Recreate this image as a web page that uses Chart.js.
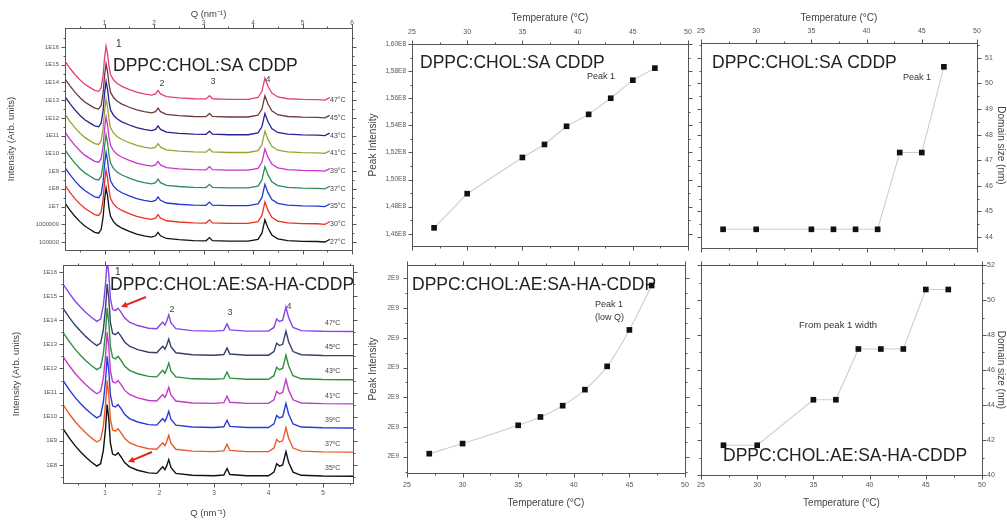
<!DOCTYPE html>
<html><head><meta charset="utf-8">
<script src="https://cdn.jsdelivr.net/npm/chart.js@4.4.1/dist/chart.umd.min.js"></script>
<style>
html,body{margin:0;padding:0;background:#fff;}
#wrap{position:relative;width:1007px;height:520px;overflow:hidden;background:#fff;}
canvas{position:absolute;}
</style></head><body>
<div id="wrap">
<canvas id="c1" width="360" height="255" style="left:0;top:0"></canvas>
<canvas id="c2" width="360" height="265" style="left:0;top:255px"></canvas>
<canvas id="c3" width="337" height="255" style="left:360px;top:0"></canvas>
<canvas id="c4" width="317" height="255" style="left:690px;top:0"></canvas>
<canvas id="c5" width="337" height="265" style="left:360px;top:255px"></canvas>
<canvas id="c6" width="317" height="265" style="left:690px;top:255px"></canvas>
</div>
<script>
// ---------- DATA ----------
// SAXS profile, DPPC:CHOL:SA CDDP (Q in nm^-1, height above curve baseline in decades)
const Q_SA = [0.20,0.30,0.40,0.50,0.60,0.70,0.80,0.88,0.93,0.97,1.00,1.03,1.06,1.09,1.12,1.18,1.25,1.35,1.50,1.65,1.80,1.95,2.03,2.08,2.13,2.25,2.50,2.80,3.05,3.12,3.18,3.50,3.90,4.10,4.18,4.24,4.30,4.38,4.50,4.70,5.00,5.30,5.45,5.52,5.55];
const H_SA = [2.2,1.8,1.45,1.15,0.9,0.72,0.55,0.5,0.7,1.4,2.4,3.05,2.6,1.9,1.45,1.15,0.95,0.78,0.6,0.45,0.35,0.28,0.35,0.55,0.35,0.2,0.13,0.08,0.07,0.25,0.08,0.05,0.05,0.15,0.5,1.25,0.8,0.4,0.18,0.08,0.04,0.03,0.0,0.1,0.15];
const TEMPS_SA = ['27°C','30°C','35°C','37°C','39°C','41°C','43°C','45°C','47°C'];
const BASE_SA = [5,6,7,8,9,10,11,12,13];           // log10 offsets of stacked curves
const COLORS_SA = ['#111111','#e8321e','#2336d8','#2e8b57','#cc33cc','#a0a030','#24248f','#6e3b3b','#e2407e'];
const LOGTICKS_SA = [5,6,7,8,9,10,11,12,13,14,15,16];
const QTICKS_SA = [1,2,3,4,5,6];

// SAXS profile, DPPC:CHOL:AE:SA-HA-CDDP
const Q_AE = [0.23,0.35,0.45,0.55,0.65,0.75,0.85,0.92,0.97,1.01,1.04,1.07,1.10,1.14,1.19,1.24,1.29,1.36,1.45,1.60,1.80,1.95,2.03,2.06,2.10,2.13,2.17,2.21,2.30,2.60,3.00,3.18,3.24,3.29,3.60,4.00,4.10,4.15,4.20,4.26,4.32,4.37,4.45,4.60,5.00,5.55];
const H_AE = [2.0,1.6,1.3,1.05,0.82,0.62,0.45,0.55,1.1,2.0,3.0,2.4,1.4,0.95,0.9,1.0,0.85,0.6,0.42,0.28,0.17,0.15,0.35,0.42,0.3,0.45,0.72,0.4,0.15,0.07,0.05,0.08,0.35,0.1,0.05,0.05,0.2,0.55,0.45,0.5,1.05,0.6,0.2,0.07,0.04,0.03];
const TEMPS_AE = ['35ºC','37ºC','39ºC','41ºC','43ºC','45ºC','47ºC'];
const BASE_AE = [7.5,8.5,9.5,10.5,11.5,12.5,13.5];
const COLORS_AE = ['#111111','#e85a2a','#2a3ad6','#c23ac8','#2f8f3f','#36406e','#8a44e6'];
const LOGTICKS_AE = [8,9,10,11,12,13,14,15,16];
const QTICKS_AE = [1,2,3,4,5];

// Temperature series
const T_POINTS = [27,30,35,37,39,41,43,45,47];
const PEAK1_SA = [1.4644e8,1.4896e8,1.5163e8,1.5259e8,1.5393e8,1.5481e8,1.5600e8,1.5733e8,1.5822e8];
const DOMAIN_SA = [44.3,44.3,44.3,44.3,44.3,44.3,47.3,47.3,50.65];
const PEAK1_AE = [2.0020e9,2.0088e9,2.0211e9,2.0267e9,2.0343e9,2.0451e9,2.0608e9,2.0853e9,2.1152e9];
const DOMAIN_AE = [41.7,41.7,44.3,44.3,47.2,47.2,47.2,50.6,50.6];
const T_TICKS = [25,30,35,40,45,50];
const PEAK_SA_TICKS = [1.46e8,1.48e8,1.50e8,1.52e8,1.54e8,1.56e8,1.58e8,1.60e8];
const PEAK_AE_TICKS = [2.00e9,2.02e9,2.04e9,2.06e9,2.08e9,2.10e9,2.12e9];
const DOMAIN_SA_TICKS = [44,45,46,47,48,49,50,51];
const DOMAIN_AE_TICKS = [40,42,44,46,48,50,52];

// ---------- HELPERS ----------
const F = "'Liberation Sans', Arial, Helvetica, sans-serif";
const TICKC = '#555', TITLEC = '#444';
const fixX = h => s => { s.height = h; s.paddingLeft = 0; s.paddingRight = 0; };
const fixY = w => s => { s.width = w; s.paddingTop = 0; s.paddingBottom = 0; };
const setTicks = arr => s => { s.ticks = arr.map(v => ({value: v})); };

function axis(o) {
  return Object.assign({
    type: 'linear',
    grid: {display: false, drawTicks: false},
    border: {display: false}
  }, o);
}
function ticks(size, pad, cb) {
  return {font: {size: size, family: F}, color: TICKC, padding: pad, autoSkip: false, maxRotation: 0, callback: cb};
}
function title(text, size, pad) {
  return {display: true, text: text, font: {size: size, family: F}, color: TITLEC, padding: pad};
}

const framePlugin = {
  id: 'frame',
  afterDatasetsDraw(chart) {
    const {ctx, chartArea: a} = chart;
    const xs = chart.scales.x, ys = chart.scales.y;
    ctx.save();
    ctx.strokeStyle = '#555';
    ctx.lineWidth = 1;
    const L = Math.round(a.left) + 0.5, R = Math.round(a.right) + 0.5, T = Math.round(a.top) + 0.5, B = Math.round(a.bottom) + 0.5;
    ctx.strokeRect(L, T, R - L, B - T);
    ctx.beginPath();
    const doX = (v, len) => {
      if (v < xs.min - 1e-9 || v > xs.max + 1e-9) return;
      const p = Math.round(xs.getPixelForValue(v)) + 0.5;
      ctx.moveTo(p, T); ctx.lineTo(p, T - len);
      ctx.moveTo(p, B); ctx.lineTo(p, B + len);
    };
    const doY = (v, len) => {
      if (v < ys.min - 1e-9 || v > ys.max + 1e-9) return;
      const p = Math.round(ys.getPixelForValue(v)) + 0.5;
      ctx.moveTo(L, p); ctx.lineTo(L - len, p);
      ctx.moveTo(R, p); ctx.lineTo(R + len, p);
    };
    const xt = xs.ticks.map(t => t.value), yt = ys.ticks.map(t => t.value);
    xt.forEach(v => doX(v, 4));
    yt.forEach(v => doY(v, 4));
    const sx = xt[1] - xt[0], sy = yt[1] - yt[0];
    for (let k = -30; k < 60; k++) { doX(xt[0] + (k + 0.5) * sx, 2); doY(yt[0] + (k + 0.5) * sy, 2); }
    ctx.stroke();
    ctx.restore();
  }
};
function notes(before, after) {
  return {
    id: 'notes',
    beforeDatasetsDraw(chart) { if (before) { const c = chart.ctx; c.save(); before(chart, c); c.restore(); } },
    afterDraw(chart) { if (after) { const c = chart.ctx; c.save(); after(chart, c); c.restore(); } }
  };
}
function txt(c, s, x, y, size, color, align) {
  c.font = size + 'px ' + F;
  c.fillStyle = color || '#222';
  c.textAlign = align || 'left';
  c.textBaseline = 'middle';
  c.fillText(s, x, y);
}
function arrow(c, x1, y1, x2, y2, color) {
  c.strokeStyle = color; c.fillStyle = color; c.lineWidth = 2;
  const ang = Math.atan2(y2 - y1, x2 - x1), hl = 7;
  const bx = x2 - Math.cos(ang) * hl * 0.8, by = y2 - Math.sin(ang) * hl * 0.8;
  c.beginPath(); c.moveTo(x1, y1); c.lineTo(bx, by); c.stroke();
  c.beginPath();
  c.moveTo(x2, y2);
  c.lineTo(x2 - hl * Math.cos(ang - 0.45), y2 - hl * Math.sin(ang - 0.45));
  c.lineTo(x2 - hl * Math.cos(ang + 0.45), y2 - hl * Math.sin(ang + 0.45));
  c.closePath(); c.fill();
}
const logLabel = v => v >= 7 ? '1E' + v : String(Math.pow(10, v));
const baseOpts = (padding) => ({
  responsive: false, animation: false, devicePixelRatio: 1,
  layout: {padding: padding},
  plugins: {legend: {display: false}, tooltip: {enabled: false}}
});
const BIG = 17.5;

// ---------- PANEL 1: SAXS DPPC:CHOL:SA ----------
new Chart(document.getElementById('c1'), {
  type: 'line',
  data: {datasets: BASE_SA.map((b, i) => ({
    data: Q_SA.map((q, j) => ({x: q, y: b + H_SA[j]})),
    borderColor: COLORS_SA[i], borderWidth: 1.3, pointRadius: 0, tension: 0
  }))},
  options: Object.assign(baseOpts({left: 0, right: 8, top: 0, bottom: 5}), {
    scales: {
      x: axis({position: 'top', min: 0.2, max: 6.0, afterBuildTicks: setTicks(QTICKS_SA), afterFit: fixX(28),
        ticks: ticks(6.5, 1, v => String(v)), title: title('Q (nm\u207B\u00B9)', 9.5, {top: 9, bottom: 0})}),
      y: axis({min: 4.55, max: 17.07, afterBuildTicks: setTicks(LOGTICKS_SA), afterFit: fixY(65),
        ticks: ticks(6, 6, logLabel), title: title('Intensity (Arb. units)', 9.5, {top: 6, bottom: 0})})
    }
  }),
  plugins: [framePlugin, notes(null, (ch, c) => {
    const ys = ch.scales.y;
    TEMPS_SA.forEach((t, i) => txt(c, t, 330, ys.getPixelForValue(BASE_SA[i]), 7, '#444'));
    txt(c, 'DPPC:CHOL:SA CDDP', 113, 66, BIG, '#222');
    txt(c, '1', 116, 44, 10, '#333');
    txt(c, '2', 162, 84, 9, '#444', 'center');
    txt(c, '3', 213, 82, 9, '#444', 'center');
    txt(c, '4', 268, 80, 9, '#444', 'center');
  })]
});

// ---------- PANEL 2: SAXS DPPC:CHOL:AE:SA-HA-CDDP ----------
new Chart(document.getElementById('c2'), {
  type: 'line',
  data: {datasets: BASE_AE.map((b, i) => ({
    data: Q_AE.map((q, j) => ({x: q, y: b + H_AE[j]})),
    borderColor: COLORS_AE[i], borderWidth: 1.4, pointRadius: 0, tension: 0
  }))},
  options: Object.assign(baseOpts({left: 0, right: 7, top: 10, bottom: 0}), {
    scales: {
      x: axis({position: 'bottom', min: 0.23, max: 5.55, afterBuildTicks: setTicks(QTICKS_AE), afterFit: fixX(37),
        ticks: ticks(6.5, 6, v => String(v)), title: title('Q (nm\u207B\u00B9)', 9.5, {top: 0, bottom: 1})}),
      y: axis({min: 7.25, max: 16.29, afterBuildTicks: setTicks(LOGTICKS_AE), afterFit: fixY(63),
        ticks: ticks(6, 6, logLabel), title: title('Intensity (Arb. units)', 9.5, {top: 11, bottom: 0})})
    }
  }),
  plugins: [framePlugin, notes(null, (ch, c) => {
    const ys = ch.scales.y;
    TEMPS_AE.forEach((t, i) => txt(c, t, 325, ys.getPixelForValue(BASE_AE[i]) - 9, 7, '#444'));
    txt(c, 'DPPC:CHOL:AE:SA-HA-CDDP', 110, 30, BIG, '#222');
    txt(c, '1', 115, 17, 10, '#333');
    txt(c, '2', 172, 55, 9, '#444', 'center');
    txt(c, '3', 230, 58, 9, '#444', 'center');
    txt(c, '4', 289, 52, 9, '#444', 'center');
    arrow(c, 146, 42, 121, 52, '#e0281e');
    arrow(c, 152, 197, 128, 207, '#e0281e');
  })]
});

// ---------- PANEL 3: Peak intensity, SA ----------
const pointDS = (vals, smooth) => ({
  data: T_POINTS.map((t, i) => ({x: t, y: vals[i]})),
  borderColor: '#cdcdcd', borderWidth: 1.1,
  pointStyle: 'rect', pointRadius: 4, pointBackgroundColor: '#111', pointBorderColor: '#111', pointBorderWidth: 0,
  tension: smooth ? 0.4 : 0, cubicInterpolationMode: smooth ? 'monotone' : 'default'
});
new Chart(document.getElementById('c3'), {
  type: 'line',
  data: {datasets: [pointDS(PEAK1_SA, false)]},
  options: Object.assign(baseOpts({left: 0, right: 9, top: 0, bottom: 9}), {
    scales: {
      x: axis({position: 'top', min: 25, max: 50, afterBuildTicks: setTicks(T_TICKS), afterFit: fixX(44),
        ticks: ticks(7, 8, v => String(v)), title: title('Temperature (°C)', 10, {top: 12, bottom: 0})}),
      y: axis({min: 1.451e8, max: 1.600e8, afterBuildTicks: setTicks(PEAK_SA_TICKS), afterFit: fixY(52),
        ticks: ticks(6.5, 6, v => (v / 1e8).toFixed(2).replace('.', ',') + 'E8'),
        title: title('Peak Intensity', 10, {top: 7, bottom: 0})})
    }
  }),
  plugins: [framePlugin, notes((ch, c) => {
    txt(c, 'DPPC:CHOL:SA CDDP', 60, 63, BIG, '#222');
    txt(c, 'Peak 1', 227, 77, 9, '#333');
  }, null)]
});

// ---------- PANEL 4: Domain size, SA ----------
new Chart(document.getElementById('c4'), {
  type: 'line',
  data: {datasets: [pointDS(DOMAIN_SA, false)]},
  options: Object.assign(baseOpts({left: 11, right: 0, top: 0, bottom: 7}), {
    scales: {
      x: axis({position: 'top', min: 25, max: 50, afterBuildTicks: setTicks(T_TICKS), afterFit: fixX(43),
        ticks: ticks(7, 8, v => String(v)), title: title('Temperature (°C)', 10, {top: 12, bottom: 0})}),
      y: axis({position: 'right', min: 43.57, max: 51.58, afterBuildTicks: setTicks(DOMAIN_SA_TICKS), afterFit: fixY(30),
        ticks: ticks(7, 8, v => String(v)), title: title('Domain size (nm)', 10, {top: 0, bottom: 0})})
    }
  }),
  plugins: [framePlugin, notes((ch, c) => {
    txt(c, 'DPPC:CHOL:SA CDDP', 22, 63, BIG, '#222');
    txt(c, 'Peak 1', 213, 78, 9, '#333');
  }, null)]
});

// ---------- PANEL 5: Peak intensity, AE ----------
new Chart(document.getElementById('c5'), {
  type: 'line',
  data: {datasets: [pointDS(PEAK1_AE, true)]},
  options: Object.assign(baseOpts({left: 0, right: 12, top: 10, bottom: 0}), {
    scales: {
      x: axis({position: 'bottom', min: 25, max: 50, afterBuildTicks: setTicks(T_TICKS), afterFit: fixX(47),
        ticks: ticks(7, 8, v => String(v)), title: title('Temperature (°C)', 10, {top: 0, bottom: 11})}),
      y: axis({min: 1.989e9, max: 2.129e9, afterBuildTicks: setTicks(PEAK_AE_TICKS), afterFit: fixY(47),
        ticks: ticks(6.5, 8, v => (v / 1e9).toFixed(0) + 'E9'),
        title: title('Peak Intensity', 10, {top: 7, bottom: 0})})
    }
  }),
  plugins: [framePlugin, notes((ch, c) => {
    txt(c, 'DPPC:CHOL:AE:SA-HA-CDDP', 52, 30, BIG, '#222');
    txt(c, 'Peak 1', 235, 50, 9, '#333');
    txt(c, '(low Q)', 235, 63, 9, '#333');
  }, null)]
});

// ---------- PANEL 6: Domain size, AE ----------
new Chart(document.getElementById('c6'), {
  type: 'line',
  data: {datasets: [pointDS(DOMAIN_AE, false)]},
  options: Object.assign(baseOpts({left: 11, right: 0, top: 10, bottom: 0}), {
    scales: {
      x: axis({position: 'bottom', min: 25, max: 50, afterBuildTicks: setTicks(T_TICKS), afterFit: fixX(45),
        ticks: ticks(7, 6, v => String(v)), title: title('Temperature (°C)', 10, {top: 0, bottom: 11})}),
      y: axis({position: 'right', min: 40, max: 52, afterBuildTicks: setTicks(DOMAIN_AE_TICKS), afterFit: fixY(25),
        ticks: ticks(7, 5, v => String(v)), title: title('Domain size (nm)', 10, {top: 0, bottom: 0})})
    }
  }),
  plugins: [framePlugin, notes((ch, c) => {
    txt(c, 'From peak 1 width', 109, 70, 9.5, '#333');
    txt(c, 'DPPC:CHOL:AE:SA-HA-CDDP', 33, 201, BIG, '#222');
  }, null)]
});
</script>
</body></html>
